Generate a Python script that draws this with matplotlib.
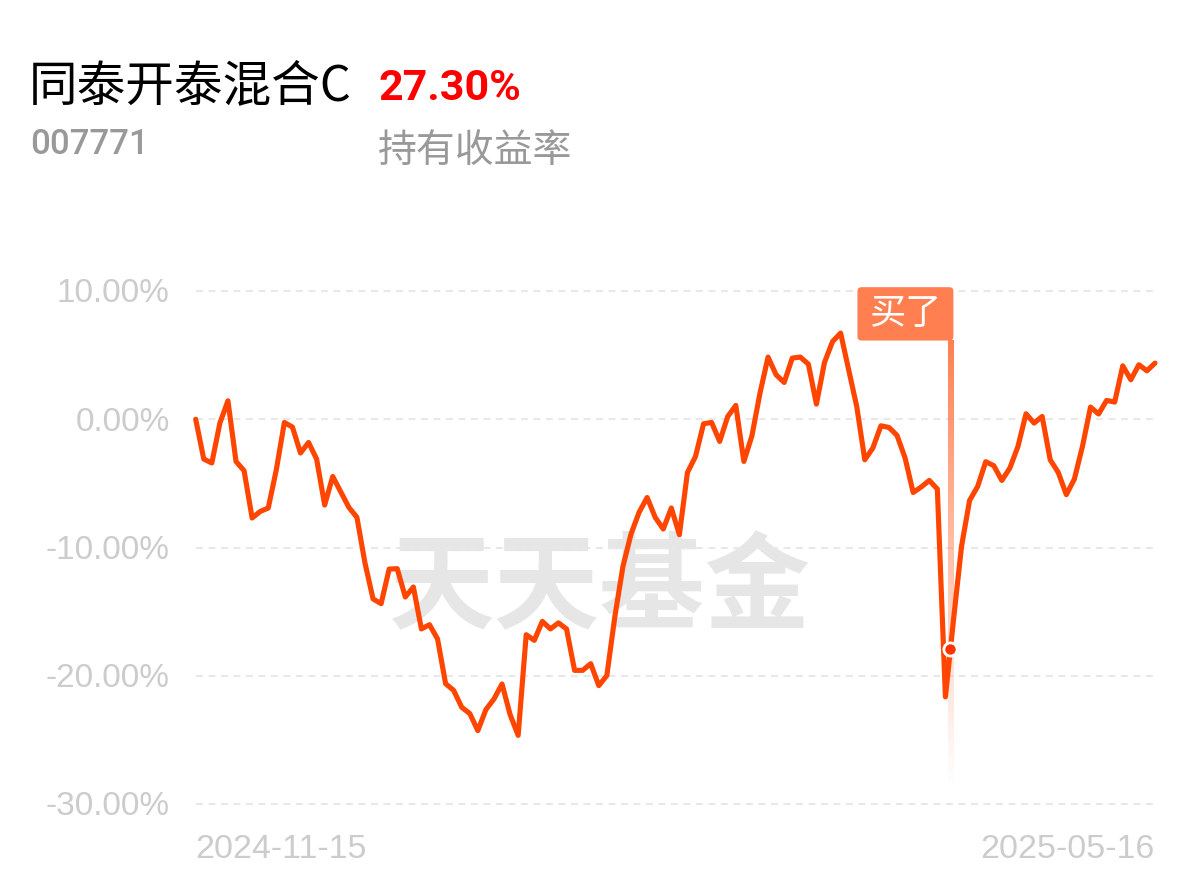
import matplotlib
matplotlib.use("Agg")
import matplotlib.pyplot as plt
import numpy as np
from matplotlib.patches import FancyBboxPatch
from matplotlib.colors import to_rgb

plt.rcParams['font.family'] = ['Noto Sans CJK SC', 'DejaVu Sans']

fund_name = "同泰开泰混合C"
fund_code = "007771"
hold_return = "27.30%"
hold_label = "持有收益率"
start_date = "2024-11-15"
end_date = "2025-05-16"
y_ticks = [10, 0, -10, -20, -30]
buy_label = "买了"
buy_index = 93.63
watermark = "天天基金"

# 持有收益率 (%) 每个交易日
returns = [
    0.0, -3.10, -3.41, -0.30, 1.44, -3.29, -4.01, -7.70, -7.19, -6.92,
    -3.94, -0.25, -0.61, -2.63, -1.81, -3.10, -6.69, -4.46, -5.67, -6.87,
    -7.65, -11.21, -14.01, -14.38, -11.68, -11.65, -13.86, -13.08, -16.35, -16.02,
    -17.13, -20.62, -21.14, -22.46, -22.95, -24.28, -22.64, -21.81, -20.64, -23.03,
    -24.65, -16.80, -17.24, -15.76, -16.35, -15.88, -16.35, -19.58, -19.58, -19.06,
    -20.77, -19.99, -15.37, -11.47, -8.95, -7.26, -6.10, -7.65, -8.56, -6.92,
    -9.00, -4.15, -2.90, -0.35, -0.25, -1.73, 0.22, 1.08, -3.29, -1.29,
    2.04, 4.85, 3.47, 2.87, 4.77, 4.85, 4.30, 1.18, 4.43, 6.06,
    6.72, 3.86, 1.00, -3.16, -2.24, -0.51, -0.64, -1.26, -3.02, -5.71,
    -5.28, -4.77, -5.44, -21.65, -15.67, -9.91, -6.33, -5.24, -3.31, -3.62,
    -4.77, -3.80, -2.12, 0.43, -0.30, 0.22, -3.16, -4.15, -5.88, -4.66,
    -2.12, 0.95, 0.41, 1.47, 1.34, 4.17, 3.08, 4.25, 3.78, 4.38,
]

W, H = 1200, 881
fig = plt.figure(figsize=(12, 8.81), dpi=100)

# 头部文字
fig.text(29 / W, 1 - 86 / H, fund_name, fontsize=35, color='black',
         ha='left', va='center')
fig.text(378 / W, 1 - 89 / H, hold_return, fontsize=31, color='#ff0000',
         family='Roboto', fontweight='bold', ha='left', va='center')
fig.text(30 / W, 1 - 144 / H, fund_code, fontsize=25, color='#999999',
         family='Roboto', fontweight='medium', ha='left', va='center')
fig.text(378 / W, 1 - 151 / H, hold_label, fontsize=28, color='#999999',
         ha='left', va='center')

ax = fig.add_axes([195.7 / W, 1 - 816.8 / H, (1155 - 195.7) / W, (816.8 - 278.2) / H])
x = np.arange(len(returns))

# 网格线和刻度
for t in y_ticks:
    ax.axhline(t, color='#e8e8e8', lw=1.5, dashes=(3.3, 2.7), zorder=1)
    ax.text(-0.027, t - 0.22, f"{t:.2f}%", transform=ax.get_yaxis_transform(),
            ha='right', va='center', fontsize=24, color='#cccccc',
            family='Liberation Sans')

ax.text(0, -0.06, start_date, transform=ax.transAxes, ha='left', va='center',
        fontsize=24.5, color='#cccccc', family='Liberation Sans')
ax.text(1, -0.06, end_date, transform=ax.transAxes, ha='right', va='center',
        fontsize=24.5, color='#cccccc', family='Liberation Sans')

# 水印
ax.text(0.4215, 0.421, watermark, transform=ax.transAxes, ha='center',
        va='center', fontsize=76, fontweight='bold', color='#e6e6e6', zorder=0.5)

# 买入竖线 (渐变)
buy_value = np.interp(buy_index, x, returns)
top, bottom = 6.14, -28.9
n = 200
grad = np.zeros((n, 1, 4))
grad[:, 0, :3] = to_rgb('#ff7f50')
grad[:, 0, 3] = np.linspace(1, 0, n) ** 1.1
half_w = 0.36
ax.imshow(grad, extent=[buy_index - half_w, buy_index + half_w, bottom, top],
          aspect='auto', interpolation='bilinear', zorder=2, origin='upper')

ax.plot(x, returns, color='#ff4500', lw=3.7, solid_joinstyle='round',
        solid_capstyle='round', zorder=3, clip_on=False)

ax.plot(buy_index, buy_value, 'o', ms=9.5, mfc='#ff3300', mec='white', mew=2,
        zorder=5, clip_on=False)

# 买了 标签
box_w = 11.9
box_right = buy_index + half_w
box = FancyBboxPatch((box_right - box_w, top), box_w, 10.3 - top,
                     boxstyle="round,pad=0,rounding_size=0.5",
                     mutation_aspect=0.628, fc='#ff7f50', ec='none',
                     zorder=4, clip_on=False)
ax.add_patch(box)
ax.text(box_right - box_w / 2, (10.3 + top) / 2, buy_label, ha='center',
        va='center', fontsize=26, color='white', zorder=5)

ax.set_xlim(0, len(returns) - 1)
ax.set_ylim(-31, 11)
ax.axis('off')

fig.savefig("out.png", dpi=100)
